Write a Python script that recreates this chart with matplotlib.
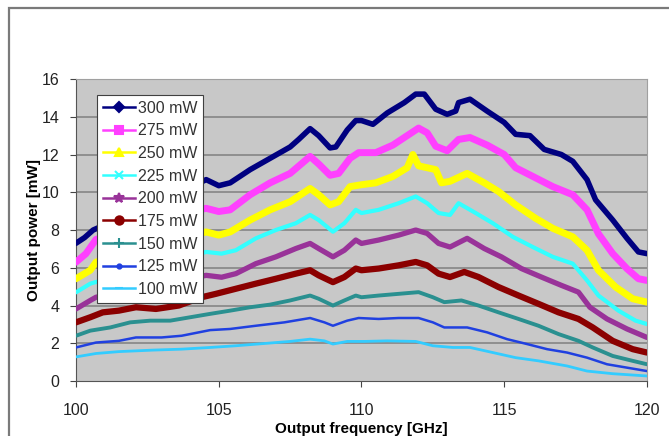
import matplotlib.pyplot as plt
from matplotlib.lines import Line2D
from matplotlib.patches import Rectangle

plt.rcParams['font.family'] = ['Liberation Sans', 'DejaVu Sans']

# values (GHz, mW)
f_300 = [100.0, 100.3, 100.6, 101.5, 102.5, 103.5, 104.56, 105.0, 105.4, 106.1, 106.8, 107.5, 107.8, 108.2, 108.5,
         108.9, 109.1, 109.5, 109.8, 110.0, 110.4, 110.9, 111.5, 111.9, 112.2, 112.6, 113.0, 113.3, 113.4, 113.8,
         114.4, 115.0, 115.4, 115.9, 116.4, 117.0, 117.4, 117.9, 118.2, 118.8, 119.3, 119.7, 120.0]
p_300 = [7.3, 7.6, 8.0, 8.6, 9.3, 9.9, 10.67, 10.35, 10.5, 11.2, 11.8, 12.4, 12.8, 13.37, 13.0,
         12.35, 12.4, 13.3, 13.8, 13.8, 13.6, 14.2, 14.75, 15.2, 15.2, 14.4, 14.13, 14.3, 14.75, 14.93,
         14.3, 13.7, 13.07, 13.0, 12.27, 12.0, 11.64, 10.67, 9.6, 8.53, 7.56, 6.84, 6.75]

f_275 = [100.0, 100.35, 100.7, 101.5, 102.5, 103.5, 104.56, 105.0, 105.4, 106.1, 106.8, 107.5, 108.2, 108.5, 108.9,
         109.2, 109.6, 109.9, 110.5, 111.1, 111.6, 112.0, 112.3, 112.6, 113.0, 113.4, 113.8, 114.4, 115.0, 115.4,
         116.0, 116.7, 117.4, 117.9, 118.3, 118.8, 119.3, 119.7, 120.0]
p_275 = [6.3, 6.75, 7.5, 7.9, 8.4, 8.8, 9.15, 8.98, 9.07, 9.87, 10.5, 11.0, 11.9, 11.5, 10.9,
         11.0, 11.8, 12.1, 12.1, 12.5, 13.0, 13.4, 13.15, 12.44, 12.2, 12.8, 12.9, 12.5, 12.0, 11.3,
         10.84, 10.3, 9.87, 9.07, 7.8, 6.75, 5.95, 5.42, 5.33]

f_250 = [100.0, 100.5, 100.7, 101.5, 102.5, 103.5, 104.56, 105.0, 105.4, 106.1, 106.8, 107.5, 108.2, 108.5, 108.9,
         109.2, 109.6, 110.0, 110.5, 111.1, 111.6, 111.8, 112.0, 112.6, 112.8, 113.1, 113.7, 114.3, 114.8, 115.4,
         116.1, 116.7, 117.4, 117.9, 118.3, 118.9, 119.5, 120.0]
p_250 = [5.42, 5.87, 6.3, 6.7, 7.1, 7.5, 7.9, 7.73, 7.9, 8.53, 9.07, 9.5, 10.2, 9.87, 9.33,
         9.5, 10.3, 10.4, 10.5, 10.84, 11.3, 12.0, 11.4, 11.2, 10.5, 10.58, 11.0, 10.5, 10.04, 9.33,
         8.62, 8.09, 7.64, 6.93, 5.87, 4.98, 4.36, 4.18]

f_225 = [100.0, 100.5, 101.5, 102.5, 103.5, 104.56, 105.1, 105.6, 106.3, 107.0, 107.7, 108.2, 108.5, 109.0, 109.4,
         109.8, 110.0, 110.6, 111.3, 111.9, 112.3, 112.7, 113.1, 113.4, 114.0, 114.6, 115.3, 116.0, 116.7, 117.4,
         117.9, 118.3, 119.0, 119.6, 120.0]
p_225 = [4.7, 5.16, 5.6, 6.0, 6.4, 6.84, 6.75, 6.93, 7.56, 8.0, 8.36, 8.8, 8.53, 7.91, 8.36,
         9.07, 8.9, 9.07, 9.42, 9.78, 9.42, 8.9, 8.8, 9.42, 8.9, 8.36, 7.64, 7.1, 6.58, 6.22,
         5.33, 4.53, 3.73, 3.2, 3.02]

f_200 = [100.0, 100.5, 100.7, 101.5, 102.5, 103.5, 104.56, 105.1, 105.6, 106.3, 107.0, 107.7, 108.2, 108.5, 109.0,
         109.4, 109.8, 110.0, 110.6, 111.3, 111.9, 112.3, 112.7, 113.1, 113.7, 114.3, 114.9, 115.6, 116.3, 117.0,
         117.6, 118.0, 118.6, 119.3, 120.0]
p_200 = [3.82, 4.27, 4.44, 4.7, 4.95, 5.3, 5.6, 5.5, 5.69, 6.22, 6.58, 7.02, 7.29, 7.02, 6.58,
         6.93, 7.47, 7.29, 7.47, 7.73, 8.0, 7.82, 7.29, 7.1, 7.56, 7.02, 6.58, 5.96, 5.51, 5.07,
         4.71, 3.91, 3.29, 2.76, 2.31]

f_175 = [100.0, 100.5, 100.94, 101.5, 102.1, 102.8, 103.6, 104.4, 104.9, 105.6, 106.3, 107.0, 107.7, 108.2, 108.5,
         109.0, 109.4, 109.8, 110.0, 110.6, 111.3, 111.9, 112.3, 112.7, 113.1, 113.6, 114.1, 114.8, 115.5, 116.2,
         116.9, 117.6, 118.1, 118.8, 119.5, 120.0]
p_175 = [3.11, 3.38, 3.64, 3.73, 3.91, 3.82, 4.0, 4.44, 4.62, 4.89, 5.16, 5.42, 5.69, 5.87, 5.6,
         5.24, 5.51, 5.96, 5.87, 5.96, 6.13, 6.31, 6.13, 5.69, 5.51, 5.78, 5.51, 4.98, 4.53, 4.09,
         3.64, 3.29, 2.84, 2.13, 1.69, 1.51]

f_150 = [100.0, 100.5, 101.2, 101.9, 102.6, 103.3, 104.0, 104.7, 105.4, 106.1, 106.8, 107.5, 108.2, 108.5, 109.0,
         109.4, 109.8, 110.0, 110.6, 111.3, 112.0, 112.5, 112.9, 113.5, 114.1, 114.8, 115.5, 116.2, 116.9, 117.6,
         118.1, 118.8, 119.5, 120.0]
p_150 = [2.4, 2.67, 2.84, 3.11, 3.2, 3.2, 3.38, 3.56, 3.73, 3.91, 4.05, 4.27, 4.53, 4.36, 4.0,
         4.27, 4.53, 4.44, 4.53, 4.62, 4.71, 4.44, 4.18, 4.27, 4.0, 3.64, 3.29, 2.93, 2.49, 2.13,
         1.78, 1.33, 1.07, 0.89]

f_125 = [100.0, 100.7, 101.5, 102.1, 103.0, 103.7, 104.7, 105.4, 106.3, 107.3, 108.2, 108.7, 109.0, 109.5, 109.9,
         110.6, 111.3, 112.0, 112.5, 112.9, 113.7, 114.4, 115.1, 115.8, 116.5, 117.2, 117.9, 118.6, 119.3, 120.0]
p_125 = [1.78, 2.04, 2.13, 2.31, 2.31, 2.4, 2.7, 2.76, 2.93, 3.11, 3.34, 3.11, 2.93, 3.2, 3.34,
         3.29, 3.34, 3.34, 3.11, 2.84, 2.84, 2.58, 2.22, 1.96, 1.69, 1.51, 1.24, 0.89, 0.71, 0.53]

f_100 = [100.0, 100.7, 101.5, 102.7, 103.7, 104.7, 105.6, 106.6, 107.5, 108.2, 108.7, 109.0, 109.5, 110.1, 110.9,
         111.9, 112.5, 113.2, 113.8, 114.6, 115.4, 116.2, 117.2, 117.9, 118.8, 120.0]
p_100 = [1.28, 1.46, 1.56, 1.64, 1.69, 1.78, 1.87, 1.99, 2.1, 2.22, 2.13, 1.96, 2.1, 2.1, 2.13,
         2.1, 1.87, 1.78, 1.78, 1.51, 1.24, 1.07, 0.8, 0.53, 0.39, 0.27]

labels = ['300 mW', '275 mW', '250 mW', '225 mW', '200 mW', '175 mW', '150 mW', '125 mW', '100 mW']
freqs = [f_300, f_275, f_250, f_225, f_200, f_175, f_150, f_125, f_100]
powers = [p_300, p_275, p_250, p_225, p_200, p_175, p_150, p_125, p_100]

colors = ['#000080', '#ff40ff', '#ffff00', '#33ffff', '#993399', '#8b0000', '#2a9090', '#2040e0', '#33ccff']
widths = [4.0, 5.0, 5.0, 3.0, 3.8, 4.5, 2.8, 1.8, 2.0]
markers = ['D', 's', '^', 'x', '*', 'o', '+', '.', '_']
msizes = [5, 6, 6, 6, 7, 6, 7, 6, 6]

fig = plt.figure(figsize=(6.69, 4.36), dpi=100)
ax = fig.add_axes([0.1136, 0.126, 0.8535, 0.6928])

# outer chart frame (only top and left edge visible)
fig.patches.append(Rectangle((9 / 669, -0.1), 1.2, 1.1 - 8 / 436, transform=fig.transFigure,
                             fill=False, edgecolor='#7a7a7a', linewidth=1.6))

ax.set_facecolor('#c8c8c8')
for y in range(2, 16, 2):
    ax.axhline(y, color='#808080', linewidth=1.1, zorder=1)

for f, p, c, w in zip(freqs, powers, colors, widths):
    ax.plot(f, p, color=c, linewidth=w, solid_joinstyle='round', solid_capstyle='round', zorder=3)

ax.set_xlim(100, 120)
ax.set_ylim(0, 16)
ax.set_xticks([100, 105, 110, 115, 120])
ax.set_yticks(range(0, 17, 2))
ax.tick_params(axis='both', labelsize=11.5, length=4, color='#444444', labelcolor='#222222', direction='out')
ax.tick_params(axis='x', pad=12)
ax.tick_params(axis='y', pad=8)
for s in ['top', 'right']:
    ax.spines[s].set_color('#a0a0a0')
for s in ['left', 'bottom']:
    ax.spines[s].set_color('#555555')

ax.set_xlabel('Output frequency [GHz]', fontsize=11, fontweight='bold', labelpad=3)
ax.set_ylabel('Output power [mW]', fontsize=11, fontweight='bold', labelpad=0)

handles = [Line2D([], [], color=c, linewidth=1.8, marker=m, markersize=s, markeredgewidth=1.5)
           for c, m, s in zip(colors, markers, msizes)]
leg = ax.legend(handles, labels, loc='upper left', bbox_to_anchor=(0.037, 0.947), borderaxespad=0,
                fontsize=11.5, frameon=True, fancybox=False, edgecolor='#404040', framealpha=1.0,
                handlelength=2.0, handletextpad=0.2, labelspacing=0.48, borderpad=0.35)
for t in leg.get_texts():
    t.set_color('#333333')
leg.get_frame().set_linewidth(0.8)
leg.set_zorder(5)

fig.savefig('out.png', dpi=100)
